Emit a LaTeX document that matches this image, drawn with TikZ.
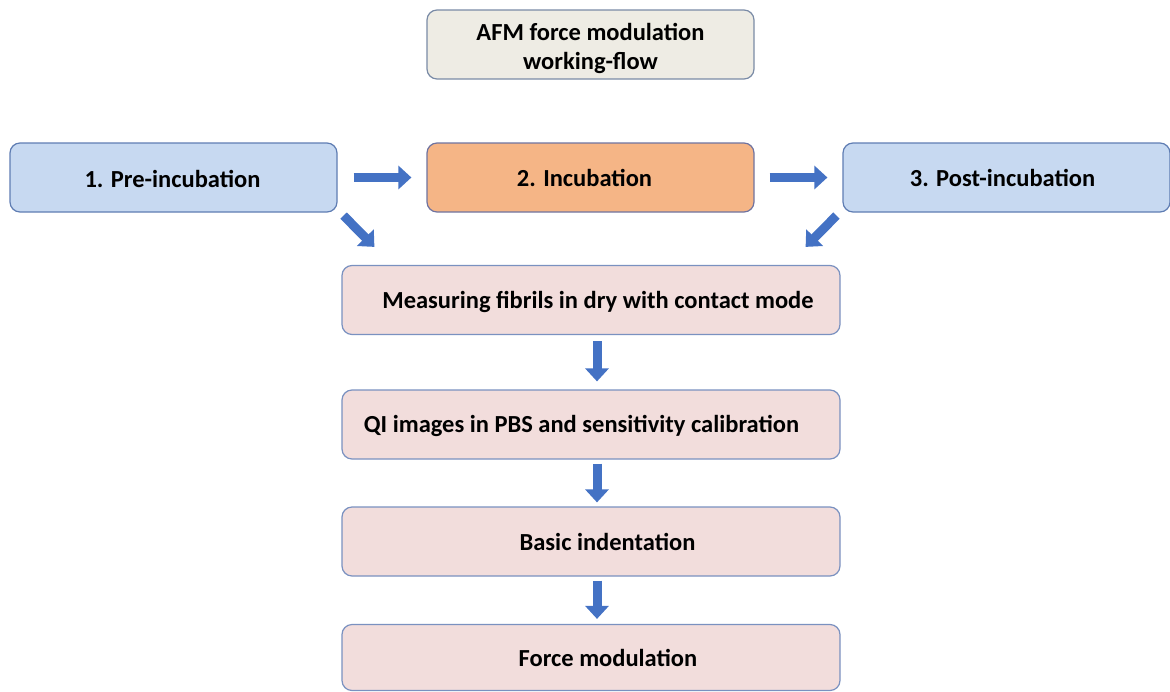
\documentclass[tikz,border=0pt]{standalone}
\usepackage{fontspec}
\setmainfont{Carlito}
\usetikzlibrary{arrows.meta}
\definecolor{titlefill}{HTML}{EEECE4}
\definecolor{titledraw}{HTML}{7A8BA6}
\definecolor{bluefill}{HTML}{C7D9F1}
\definecolor{bluedraw}{HTML}{5F7DB3}
\definecolor{orangefill}{HTML}{F5B586}
\definecolor{orangedraw}{HTML}{6F73A0}
\definecolor{pinkfill}{HTML}{F2DDDC}
\definecolor{pinkdraw}{HTML}{7A91C0}
\definecolor{arrowblue}{HTML}{4472C4}
\tikzset{
  box/.style={draw, line width=1.2pt, rounded corners=10pt, inner sep=0pt,
    font=\bfseries\fontsize{24.5}{29}\selectfont, align=center},
  titlebox/.style={box, fill=titlefill, draw=titledraw, minimum width=327pt, minimum height=69pt},
  stagebox/.style={box, fill=bluefill, draw=bluedraw, minimum width=327pt, minimum height=69pt},
  incbox/.style={box, fill=orangefill, draw=orangedraw, minimum width=327pt, minimum height=69pt},
  stepbox/.style={box, fill=pinkfill, draw=pinkdraw, minimum width=498pt, minimum height=69pt},
  blockarrow/.style={draw=arrowblue, line width=9pt, -{Triangle[width=23pt,length=13pt,fill=arrowblue]}}
}
\begin{document}
\begin{tikzpicture}[x=1pt,y=-1pt]
\useasboundingbox (0,0) rectangle (1170,691);
\node[titlebox] (title) at (590.5,44.5) {\rule{0pt}{25pt}AFM force modulation\\working-flow};
\node[stagebox] (pre) at (173.5,177.5) {\rule{0pt}{21pt}\hspace*{-2pt}1. Pre-incubation};
\node[incbox] (inc) at (590.5,177.5) {2. Incubation\hspace*{12pt}};
\node[stagebox] (post) at (1006.5,177.5) {3. Post-incubation\hspace*{8pt}};
\node[stepbox] (meas) at (591,300) {\rule{0pt}{21pt}\hspace*{14pt}Measuring fibrils in dry with contact mode};
\node[stepbox] (qi) at (591,424.5) {\rule{0pt}{21pt}QI images in PBS and sensitivity calibration\hspace*{19pt}};
\node[stepbox] (basic) at (591,541.5) {\hspace*{33pt}Basic indentation};
\node[stepbox, minimum height=66pt] (force) at (591,657.5) {\hspace*{34pt}Force modulation};
\draw[blockarrow, shorten <=16pt, shorten >=15pt] (pre.east) -- (inc.west);
\draw[blockarrow, shorten <=15pt, shorten >=15pt] (inc.east) -- (post.west);
\coordinate (dl1) at ([shift={(6pt,-3pt)}]pre.south east);
\coordinate (dl2) at ([shift={(33pt,18pt)}]meas.north west);
\draw[blockarrow] (dl1) -- (dl2);
\coordinate (dr1) at ([shift={(-6pt,-3pt)}]post.south west);
\coordinate (dr2) at ([shift={(-35pt,18pt)}]meas.north east);
\draw[blockarrow] (dr1) -- (dr2);
\draw[blockarrow, shorten <=6pt, shorten >=8pt] ([xshift=6pt]meas.south) -- ([xshift=6pt]qi.north);
\draw[blockarrow, shorten <=4pt, shorten >=4pt] ([xshift=6pt]qi.south) -- ([xshift=6pt]basic.north);
\draw[blockarrow, shorten <=4pt, shorten >=5pt] ([xshift=6pt]basic.south) -- ([xshift=6pt]force.north);
\end{tikzpicture}
\end{document}
